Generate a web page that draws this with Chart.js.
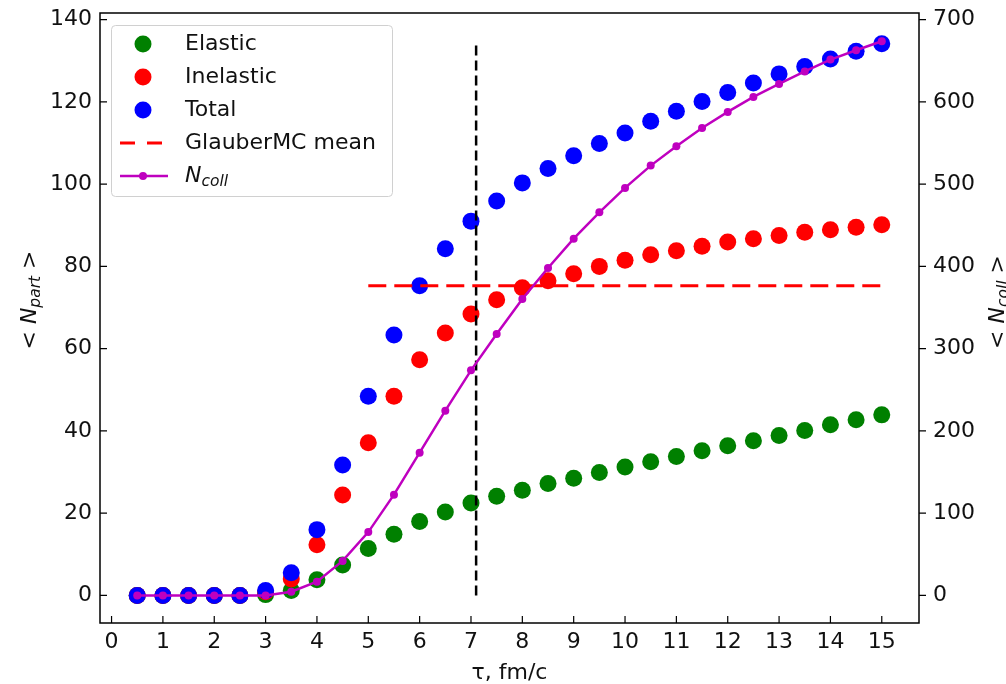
<!DOCTYPE html>
<html>
<head>
<meta charset="utf-8">
<script src="https://cdn.jsdelivr.net/npm/chart.js@4/dist/chart.umd.min.js"></script>
<style>
html,body{margin:0;padding:0;background:#fff;}
#wrap{width:1006px;height:684px;position:relative;}
</style>
</head>
<body>
<div id="wrap"><canvas id="c" width="1006" height="684"></canvas></div>
<script>
const tau = [0.5,1,1.5,2,2.5,3,3.5,4,4.5,5,5.5,6,6.5,7,7.5,8,8.5,9,9.5,10,10.5,11,11.5,12,12.5,13,13.5,14,14.5,15];
const elastic = [0,0,0,0,0,0.2,1.2,3.8,7.4,11.4,14.9,18.0,20.3,22.5,24.1,25.6,27.2,28.5,29.9,31.2,32.5,33.8,35.2,36.4,37.6,38.9,40.1,41.5,42.7,43.9];
const inelastic = [0,0,0,0,0,0.9,4.0,12.3,24.4,37.1,48.4,57.3,63.8,68.4,71.9,74.8,76.5,78.2,80.0,81.5,82.8,83.8,84.9,85.9,86.7,87.5,88.3,88.9,89.5,90.1];
const total = [0,0,0,0,0,1.2,5.5,16.0,31.7,48.4,63.3,75.3,84.3,91.0,95.9,100.3,103.8,106.9,109.9,112.4,115.3,117.7,120.1,122.3,124.6,126.8,128.6,130.4,132.3,134.1];
const ncoll = [0,0,0,0,0,0,4.5,16.7,42,77,122.5,173.5,224.6,273.6,317.8,360.4,398,433.7,465.7,495.4,522.5,546,568.3,587.8,606,621.8,637,651.4,662.7,673.6];
const glauberMean = 75.3;
const glauberRange = [5, 15];
const tauMark = 7.1;
const tauMarkTop = 134.7;
const xTicks = [0,1,2,3,4,5,6,7,8,9,10,11,12,13,14,15];
const leftTicks = [0,20,40,60,80,100,120,140];
const rightTicks = [0,100,200,300,400,500,600,700];

const FONT = '"DejaVu Sans", sans-serif';
const FS = 22;
const pts = (ys) => tau.map((t,i)=>({x:t,y:ys[i]}));

const legendItems = [
  {type:'dot', color:'#008000', label:'Elastic'},
  {type:'dot', color:'#ff0000', label:'Inelastic'},
  {type:'dot', color:'#0000ff', label:'Total'},
  {type:'dash', color:'#ff0000', label:'GlauberMC mean'},
  {type:'line', color:'#bf00bf', label:'N', sub:'coll'}
];

function drawSubText(ctx, parts, x, y, align){
  const size = FS, subSize = 15.5;
  let w = 0;
  parts.forEach(p=>{
    ctx.font = (p.italic?'italic ':'') + (p.sub?subSize:size) + 'px ' + FONT;
    p.w = ctx.measureText(p.t).width; w += p.w;
  });
  let cx = align==='center' ? x - w/2 : x;
  parts.forEach(p=>{
    ctx.font = (p.italic?'italic ':'') + (p.sub?subSize:size) + 'px ' + FONT;
    ctx.fillText(p.t, cx, y + (p.sub?6:0));
    cx += p.w;
  });
}

const decor = {
  id:'decor',
  afterDraw(chart){
    const ctx = chart.ctx, a = chart.chartArea;
    const xs = chart.scales.x, yl = chart.scales.y, yr = chart.scales.y2;
    ctx.save();
    ctx.strokeStyle = '#000'; ctx.lineWidth = 1.5;
    ctx.strokeRect(a.left, a.top, a.right-a.left, a.bottom-a.top);
    ctx.lineWidth = 1.2;
    ctx.beginPath();
    xTicks.forEach(v=>{const p = xs.getPixelForValue(v); ctx.moveTo(p, a.bottom); ctx.lineTo(p, a.bottom-7);});
    leftTicks.forEach(v=>{const p = yl.getPixelForValue(v); ctx.moveTo(a.left, p); ctx.lineTo(a.left+7, p);});
    rightTicks.forEach(v=>{const p = yr.getPixelForValue(v); ctx.moveTo(a.right, p); ctx.lineTo(a.right+7, p);});
    ctx.stroke();
    ctx.fillStyle = '#111';
    ctx.textBaseline = 'alphabetic';
    ctx.font = FS + 'px ' + FONT;
    ctx.textAlign = 'center';
    ctx.fillText('τ, fm/c', (a.left+a.right)/2, 679);
    ctx.textAlign = 'left';
    ctx.textBaseline = 'middle';
    ctx.save();
    ctx.translate(30, 300); ctx.rotate(-Math.PI/2);
    drawSubText(ctx, [{t:'< '},{t:'N',italic:true},{t:'part',italic:true,sub:true},{t:' >'}], 0, 0, 'center');
    ctx.restore();
    ctx.save();
    ctx.translate(998, 302); ctx.rotate(-Math.PI/2);
    drawSubText(ctx, [{t:'< '},{t:'N',italic:true},{t:'coll',italic:true,sub:true},{t:' >'}], 0, 0, 'center');
    ctx.restore();
    // legend
    const bx=111.5, by=25.5, bw=281, bh=171, r=4;
    ctx.beginPath();
    ctx.moveTo(bx+r,by); ctx.lineTo(bx+bw-r,by); ctx.quadraticCurveTo(bx+bw,by,bx+bw,by+r);
    ctx.lineTo(bx+bw,by+bh-r); ctx.quadraticCurveTo(bx+bw,by+bh,bx+bw-r,by+bh);
    ctx.lineTo(bx+r,by+bh); ctx.quadraticCurveTo(bx,by+bh,bx,by+bh-r);
    ctx.lineTo(bx,by+r); ctx.quadraticCurveTo(bx,by,bx+r,by); ctx.closePath();
    ctx.fillStyle = 'rgba(255,255,255,0.8)'; ctx.fill();
    ctx.strokeStyle = '#d0d0d0'; ctx.lineWidth = 1; ctx.stroke();
    legendItems.forEach((it,i)=>{
      const y = 44 + i*33;
      if(it.type==='dot'){
        ctx.fillStyle = it.color; ctx.beginPath(); ctx.arc(143, y, 8.5, 0, Math.PI*2); ctx.fill();
      } else if(it.type==='dash'){
        ctx.strokeStyle = it.color; ctx.lineWidth = 3; ctx.setLineDash([15,12]);
        ctx.beginPath(); ctx.moveTo(120,y); ctx.lineTo(163,y); ctx.stroke(); ctx.setLineDash([]);
      } else {
        ctx.strokeStyle = it.color; ctx.lineWidth = 2.5;
        ctx.beginPath(); ctx.moveTo(120,y); ctx.lineTo(168,y); ctx.stroke();
        ctx.fillStyle = it.color; ctx.beginPath(); ctx.arc(143, y, 4, 0, Math.PI*2); ctx.fill();
      }
      ctx.fillStyle = '#111'; ctx.textAlign='left'; ctx.textBaseline='middle';
      if(it.sub){
        drawSubText(ctx, [{t:it.label,italic:true},{t:it.sub,italic:true,sub:true}], 185, y, 'left');
      } else {
        ctx.font = FS + 'px ' + FONT; ctx.fillText(it.label, 185, y);
      }
    });
    ctx.restore();
  }
};

const setTicks = (arr) => (scale) => { scale.ticks = arr.map(v=>({value:v})); };
const fitY = (w) => (s) => { s.width = w; s.paddingTop = 0; s.paddingBottom = 0; };
const fitX = (h) => (s) => { s.height = h; s.paddingLeft = 0; s.paddingRight = 0; };

new Chart(document.getElementById('c'), {
  type:'scatter',
  data:{
    datasets:[
      {label:'Elastic', data:pts(elastic), backgroundColor:'#008000', borderWidth:0, pointRadius:8.5, pointHoverRadius:8.5, yAxisID:'y', order:6},
      {label:'Inelastic', data:pts(inelastic), backgroundColor:'#ff0000', borderWidth:0, pointRadius:8.5, pointHoverRadius:8.5, yAxisID:'y', order:5},
      {label:'Total', data:pts(total), backgroundColor:'#0000ff', borderWidth:0, pointRadius:8.5, pointHoverRadius:8.5, yAxisID:'y', order:4},
      {label:'tau', type:'line', data:[{x:tauMark,y:0},{x:tauMark,y:tauMarkTop}], borderColor:'#000', borderWidth:2.5, borderDash:[10,5], pointRadius:0, yAxisID:'y', order:3},
      {label:'GlauberMC mean', type:'line', data:[{x:glauberRange[0],y:glauberMean},{x:glauberRange[1],y:glauberMean}], borderColor:'#ff0000', borderWidth:3, borderDash:[18,8], pointRadius:0, yAxisID:'y', order:2},
      {label:'Ncoll', type:'line', data:pts(ncoll), borderColor:'#bf00bf', backgroundColor:'#bf00bf', borderWidth:2.5, pointRadius:4, pointBorderWidth:0, tension:0, yAxisID:'y2', order:1}
    ]
  },
  options:{
    responsive:false, animation:false, devicePixelRatio:1,
    layout:{padding:{top:13,left:0,right:0,bottom:0}},
    plugins:{legend:{display:false}, tooltip:{enabled:false}},
    scales:{
      x:{type:'linear', min:-0.225, max:15.725, afterBuildTicks:setTicks(xTicks),
         afterFit:fitX(61),
         grid:{display:false, drawTicks:false}, border:{display:false},
         ticks:{padding:6, color:'#111', font:{family:FONT,size:FS}, maxRotation:0, autoSkip:false}},
      y:{type:'linear', position:'left', min:-6.7, max:141.6, afterBuildTicks:setTicks(leftTicks),
         afterFit:fitY(100),
         grid:{display:false, drawTicks:false}, border:{display:false},
         ticks:{padding:8, color:'#111', font:{family:FONT,size:FS}, autoSkip:false}},
      y2:{type:'linear', position:'right', min:-33.5, max:708, afterBuildTicks:setTicks(rightTicks),
         afterFit:fitY(87),
         grid:{display:false, drawTicks:false}, border:{display:false},
         ticks:{padding:14, color:'#111', font:{family:FONT,size:FS}, autoSkip:false}}
    }
  },
  plugins:[decor]
});
</script>
</body>
</html>
